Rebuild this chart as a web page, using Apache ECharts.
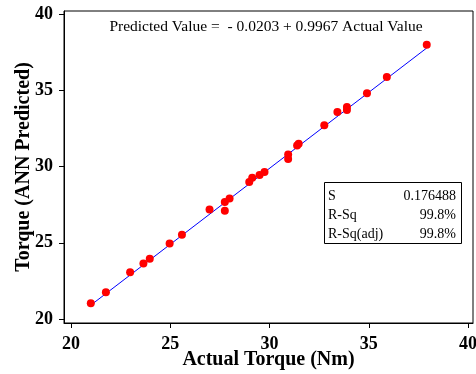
<!DOCTYPE html>
<html><head><meta charset="utf-8">
<script src="https://cdn.jsdelivr.net/npm/echarts@6/dist/echarts.min.js"></script>
<style>html,body{margin:0;padding:0;background:#fff}#c{width:476px;height:374px}</style>
</head><body><div id="c"></div>
<script>
const actual = [21.0,21.76,22.98,23.65,23.97,24.97,25.59,26.98,27.75,27.75,27.99,28.98,29.13,29.5,29.75,30.94,30.94,31.39,31.47,32.76,33.42,33.9,33.9,34.91,35.91,37.92];
const predicted = [21.03,21.76,23.07,23.64,23.95,24.95,25.53,27.19,27.1,27.68,27.9,28.99,29.26,29.45,29.65,30.5,30.79,31.38,31.49,32.7,33.57,33.7,33.9,34.8,35.88,37.98];
const fitIntercept = -0.0203;
const fitSlope = 0.9967;
const fitRange = [21.0, 37.92];
const tickValues = [20,25,30,35,40];
const statLabels = ['S','R-Sq','R-Sq(adj)'];
const statValues = ['0.176488','99.8%','99.8%'];
const equationText = 'Predicted Value =  - 0.0203 + 0.9967 Actual Value';

const pts = actual.map((a,i)=>[a,predicted[i]]);
const fitLine = fitRange.map(x=>[x, fitIntercept + fitSlope*x]);
const serif = '"Liberation Serif","Times New Roman",serif';

const chart = echarts.init(document.getElementById('c'), null, {renderer:'canvas'});
const axisCommon = {
  type:'value',
  axisLine:{show:true,onZero:false,lineStyle:{color:'#000',width:1}},
  axisTick:{show:true,inside:false,length:5,customValues:tickValues,lineStyle:{color:'#000'}},
  axisLabel:{customValues:tickValues,color:'#000',fontFamily:serif,fontWeight:'bold',fontSize:18},
  splitLine:{show:false},
  nameLocation:'middle',
  nameMoveOverlap:false,
  nameTextStyle:{color:'#000',fontFamily:serif,fontWeight:'bold',fontSize:20}
};
const statGraphics = [];
statGraphics.push({type:'rect',left:324,top:182,shape:{width:137,height:61},style:{fill:'#fff',stroke:'#000',lineWidth:1},z:100});
statLabels.forEach((s,i)=>{
  statGraphics.push({type:'text',left:328,top:189+i*19,style:{text:s,font:'14px '+serif,fill:'#000'},z:101});
  statGraphics.push({type:'text',right:476-456,top:189+i*19,style:{text:statValues[i],font:'14px '+serif,fill:'#000',align:'right'},z:101});
});
chart.setOption({
  animation:false,
  backgroundColor:'#fff',
  grid:{left:64,right:3,top:11,bottom:51,containLabel:false,outerBoundsMode:'none',show:true,borderColor:'#000',borderWidth:1,backgroundColor:'transparent'},
  title:{text:equationText,left:261,top:14,textAlign:'center',textStyle:{fontFamily:serif,fontWeight:'normal',fontSize:15.5,color:'#000'}},
  xAxis:Object.assign({},axisCommon,{min:19.65,max:40.25,name:'Actual Torque (Nm)',nameGap:27,axisLabel:Object.assign({},axisCommon.axisLabel,{margin:12})}),
  yAxis:Object.assign({},axisCommon,{min:19.74,max:40.2,name:'Torque (ANN Predicted)',nameGap:30,axisLabel:Object.assign({},axisCommon.axisLabel,{margin:11})}),
  series:[
    {type:'line',data:fitLine,symbol:'none',lineStyle:{color:'#0000ff',width:1},z:2},
    {type:'scatter',data:pts,symbol:'circle',symbolSize:8,itemStyle:{color:'#ff0000',opacity:1},z:3}
  ],
  graphic:statGraphics
});
</script></body></html>
